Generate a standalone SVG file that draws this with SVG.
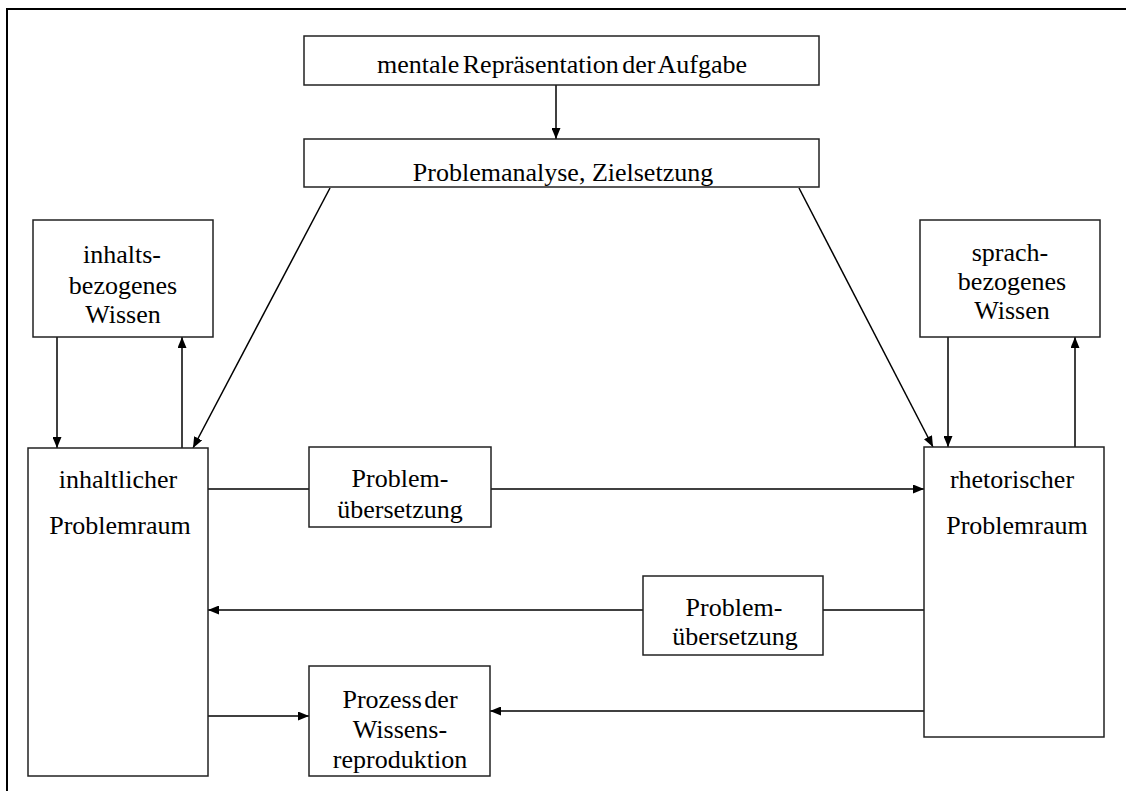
<svg xmlns="http://www.w3.org/2000/svg" width="1126" height="791" viewBox="0 0 1126 791">
  <style>
    .box { fill: #fff; stroke: #222; stroke-width: 1.5; }
    .lbl { font-size: 26px; fill: #000; text-anchor: middle; }
    .con { fill: none; stroke: #000; stroke-width: 1.5; }
    .arr { marker-end: url(#head); }
  </style>
  <defs>
    <marker id="head" markerUnits="userSpaceOnUse" markerWidth="11" markerHeight="9" refX="11" refY="4.5" orient="auto">
      <path d="M0,0 L11,4.5 L0,9 z" fill="#000"/>
    </marker>
  </defs>
  <rect width="1126" height="791" fill="#fff"/>

  <!-- outer frame (top and left edges) -->
  <path d="M7,791 V9 H1126" fill="none" stroke="#000" stroke-width="2"/>

  <g id="connectors">
    <path class="con arr" d="M556,85 V139"/>
    <path class="con arr" d="M330,188 L193,448"/>
    <path class="con arr" d="M799,188 L933,447"/>
    <path class="con arr" d="M57,337 V448"/>
    <path class="con arr" d="M182,448 V337"/>
    <path class="con arr" d="M948,337 V447"/>
    <path class="con arr" d="M1075,447 V337"/>
    <path class="con" d="M208,489 H309"/>
    <path class="con arr" d="M491,489 H924"/>
    <path class="con" d="M924,610 H823"/>
    <path class="con arr" d="M643,610 H208"/>
    <path class="con arr" d="M208,716 H309"/>
    <path class="con arr" d="M924,711 H490"/>
  </g>

  <g font-family="Liberation Serif, DejaVu Serif, serif">
  <g id="mentale-repraesentation">
    <rect class="box" x="304" y="36" width="515" height="49"/>
    <text class="lbl" x="562" y="73" word-spacing="-3">mentale Repräsentation der Aufgabe</text>
  </g>

  <g id="problemanalyse">
    <rect class="box" x="304" y="139" width="515" height="48"/>
    <text class="lbl" x="563" y="181">Problemanalyse, Zielsetzung</text>
  </g>

  <g id="inhaltsbezogenes-wissen">
    <rect class="box" x="33" y="220" width="180" height="117"/>
    <text class="lbl" x="122" y="263">inhalts-</text>
    <text class="lbl" x="123" y="294">bezogenes</text>
    <text class="lbl" x="123" y="323">Wissen</text>
  </g>

  <g id="sprachbezogenes-wissen">
    <rect class="box" x="920" y="220" width="180" height="117"/>
    <text class="lbl" x="1010" y="261">sprach-</text>
    <text class="lbl" x="1012" y="290">bezogenes</text>
    <text class="lbl" x="1012" y="319">Wissen</text>
  </g>

  <g id="inhaltlicher-problemraum">
    <rect class="box" x="28" y="448" width="180" height="328"/>
    <text class="lbl" x="118" y="488">inhaltlicher</text>
    <text class="lbl" x="120" y="534">Problemraum</text>
  </g>

  <g id="rhetorischer-problemraum">
    <rect class="box" x="924" y="447" width="180" height="290"/>
    <text class="lbl" x="1012" y="488">rhetorischer</text>
    <text class="lbl" x="1017" y="534">Problemraum</text>
  </g>

  <g id="problemuebersetzung-1">
    <rect class="box" x="309" y="447" width="182" height="80"/>
    <text class="lbl" x="400" y="487">Problem-</text>
    <text class="lbl" x="400" y="518">übersetzung</text>
  </g>

  <g id="problemuebersetzung-2">
    <rect class="box" x="643" y="576" width="180" height="79"/>
    <text class="lbl" x="734" y="616">Problem-</text>
    <text class="lbl" x="735" y="645">übersetzung</text>
  </g>

  <g id="wissensreproduktion">
    <rect class="box" x="309" y="666" width="181" height="110"/>
    <text class="lbl" x="400" y="708" word-spacing="-4">Prozess der</text>
    <text class="lbl" x="400" y="738">Wissens-</text>
    <text class="lbl" x="400" y="768">reproduktion</text>
  </g>
  </g>
</svg>
